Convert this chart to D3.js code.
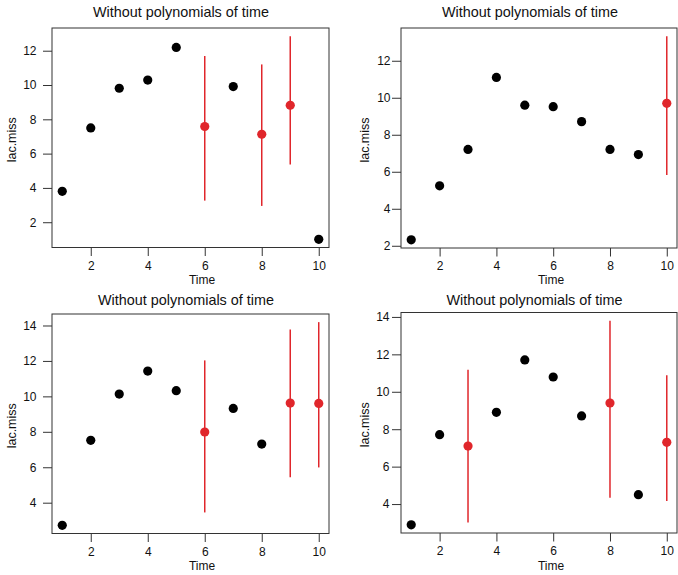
<!DOCTYPE html>
<html>
<head>
<meta charset="utf-8">
<script src="https://cdn.jsdelivr.net/npm/d3@7"></script>
<style>
  html, body { margin: 0; padding: 0; background: #fff; }
  svg { display: block; }
  text { font-family: "Liberation Sans", Arial, Helvetica, sans-serif; fill: #111; }
</style>
</head>
<body>
<svg id="chart" width="678" height="575"></svg>
<script>
// ---------------- data ----------------
const time = [1, 2, 3, 4, 5, 6, 7, 8, 9, 10];
const xTicks = [2, 4, 6, 8, 10];
const titleText = "Without polynomials of time";
const xLabel = "Time";
const yLabel = "lac.miss";

const p1Values = [3.80, 7.50, 9.81, 10.29, 12.19, 7.58, 9.91, 7.13, 8.82, 1.00];
const p1Imputed = [6, 8, 9];
const p1Lower = [3.26, 2.95, 5.37];
const p1Upper = [11.69, 11.20, 12.85];
const p1YTicks = [2, 4, 6, 8, 10, 12];

const p2Values = [2.32, 5.24, 7.21, 11.10, 9.60, 9.52, 8.71, 7.21, 6.93, 9.70];
const p2Imputed = [10];
const p2Lower = [5.83];
const p2Upper = [13.33];
const p2YTicks = [2, 4, 6, 8, 10, 12];

const p3Values = [2.72, 7.52, 10.13, 11.43, 10.32, 7.99, 9.32, 7.31, 9.62, 9.60];
const p3Imputed = [6, 9, 10];
const p3Lower = [3.45, 5.43, 5.99];
const p3Upper = [12.03, 13.78, 14.19];
const p3YTicks = [4, 6, 8, 10, 12, 14];

const p4Values = [2.89, 7.71, 7.10, 8.90, 11.70, 10.79, 8.71, 9.40, 4.50, 7.30];
const p4Imputed = [3, 8, 10];
const p4Lower = [3.02, 4.34, 4.16];
const p4Upper = [11.18, 13.80, 10.88];
const p4YTicks = [4, 6, 8, 10, 12, 14];

// ---------------- layout ----------------
const panels = [
  { values: p1Values, imputed: p1Imputed, lower: p1Lower, upper: p1Upper, yTicks: p1YTicks,
    box: { x0: 52, x1: 329, y0: 28, y1: 247.5 }, titleX: 181, titleY: 16.5, xLabX: 202, xLabY: 284, yLabX: 11.5, yPad: 6.5 },
  { values: p2Values, imputed: p2Imputed, lower: p2Lower, upper: p2Upper, yTicks: p2YTicks,
    box: { x0: 401, x1: 677, y0: 28, y1: 248 }, titleX: 530, titleY: 16.5, xLabX: 551, xLabY: 284, yLabX: 364.5, yPad: 1.5 },
  { values: p3Values, imputed: p3Imputed, lower: p3Lower, upper: p3Upper, yTicks: p3YTicks,
    box: { x0: 52, x1: 329, y0: 314, y1: 533.5 }, titleX: 186, titleY: 304.5, xLabX: 202, xLabY: 570, yLabX: 12, yPad: 6.5 },
  { values: p4Values, imputed: p4Imputed, lower: p4Lower, upper: p4Upper, yTicks: p4YTicks,
    box: { x0: 401, x1: 677, y0: 312.5, y1: 533 }, titleX: 534.5, titleY: 304.5, xLabX: 551, xLabY: 570, yLabX: 364.5, yPad: 2.5 }
];

const red = "#e0262b";
const axisCol = "#333";

function padExtent(lo, hi) {
  const d = (hi - lo) * 0.04;
  return [lo - d, hi + d];
}

const svg = d3.select("#chart");

panels.forEach(p => {
  const g = svg.append("g");
  const b = p.box;
  const xs = padExtent(d3.min(time), d3.max(time));
  const x = d3.scaleLinear().domain(xs).range([b.x0, b.x1]);
  const allY = p.values.concat(p.lower, p.upper);
  const y = d3.scaleLinear().domain(padExtent(d3.min(allY), d3.max(allY))).range([b.y1, b.y0]);

  // x axis
  const xa = g.append("g").attr("transform", `translate(0,${b.y1})`)
    .call(d3.axisBottom(x).tickValues(xTicks).tickSize(8.5).tickPadding(5).tickSizeOuter(0));
  xa.select(".domain").remove();
  xa.selectAll("line").attr("stroke", axisCol);
  xa.selectAll("text").style("font-size", "12px").attr("fill", "#111");

  // y axis
  const ya = g.append("g").attr("transform", `translate(${b.x0},0)`)
    .call(d3.axisLeft(y).tickValues(p.yTicks).tickSize(9).tickPadding(p.yPad).tickSizeOuter(0));
  ya.select(".domain").remove();
  ya.selectAll("line").attr("stroke", axisCol);
  ya.selectAll("text").style("font-size", "12px").attr("fill", "#111");

  // box
  g.append("rect")
    .attr("x", b.x0).attr("y", b.y0)
    .attr("width", b.x1 - b.x0).attr("height", b.y1 - b.y0)
    .attr("fill", "none").attr("stroke", axisCol).attr("stroke-width", 1);

  // error bars
  const imp = p.imputed.map((t, i) => ({ t, lo: p.lower[i], hi: p.upper[i], v: p.values[time.indexOf(t)] }));
  g.selectAll("line.err").data(imp).enter().append("line")
    .attr("class", "err")
    .attr("x1", d => x(d.t)).attr("x2", d => x(d.t))
    .attr("y1", d => y(d.lo)).attr("y2", d => y(d.hi))
    .attr("stroke", red).attr("stroke-width", 1.5);

  // points
  const pts = time.map((t, i) => ({ t, v: p.values[i], imp: p.imputed.includes(t) }));
  g.selectAll("circle.pt").data(pts).enter().append("circle")
    .attr("class", "pt")
    .attr("cx", d => x(d.t)).attr("cy", d => y(d.v))
    .attr("r", 4.6)
    .attr("fill", d => d.imp ? red : "#000");

  // titles
  g.append("text").attr("x", p.titleX).attr("y", p.titleY)
    .attr("text-anchor", "middle").style("font-size", "14.4px").text(titleText);
  g.append("text").attr("x", p.xLabX).attr("y", p.xLabY)
    .attr("text-anchor", "middle").style("font-size", "12px").text(xLabel);
  const cy = (b.y0 + b.y1) / 2 + 2;
  g.append("text")
    .attr("transform", `translate(${p.yLabX},${cy}) rotate(-90)`)
    .attr("text-anchor", "middle").attr("dominant-baseline", "central")
    .style("font-size", "12.5px").text(yLabel);
});
</script>
</body>
</html>
